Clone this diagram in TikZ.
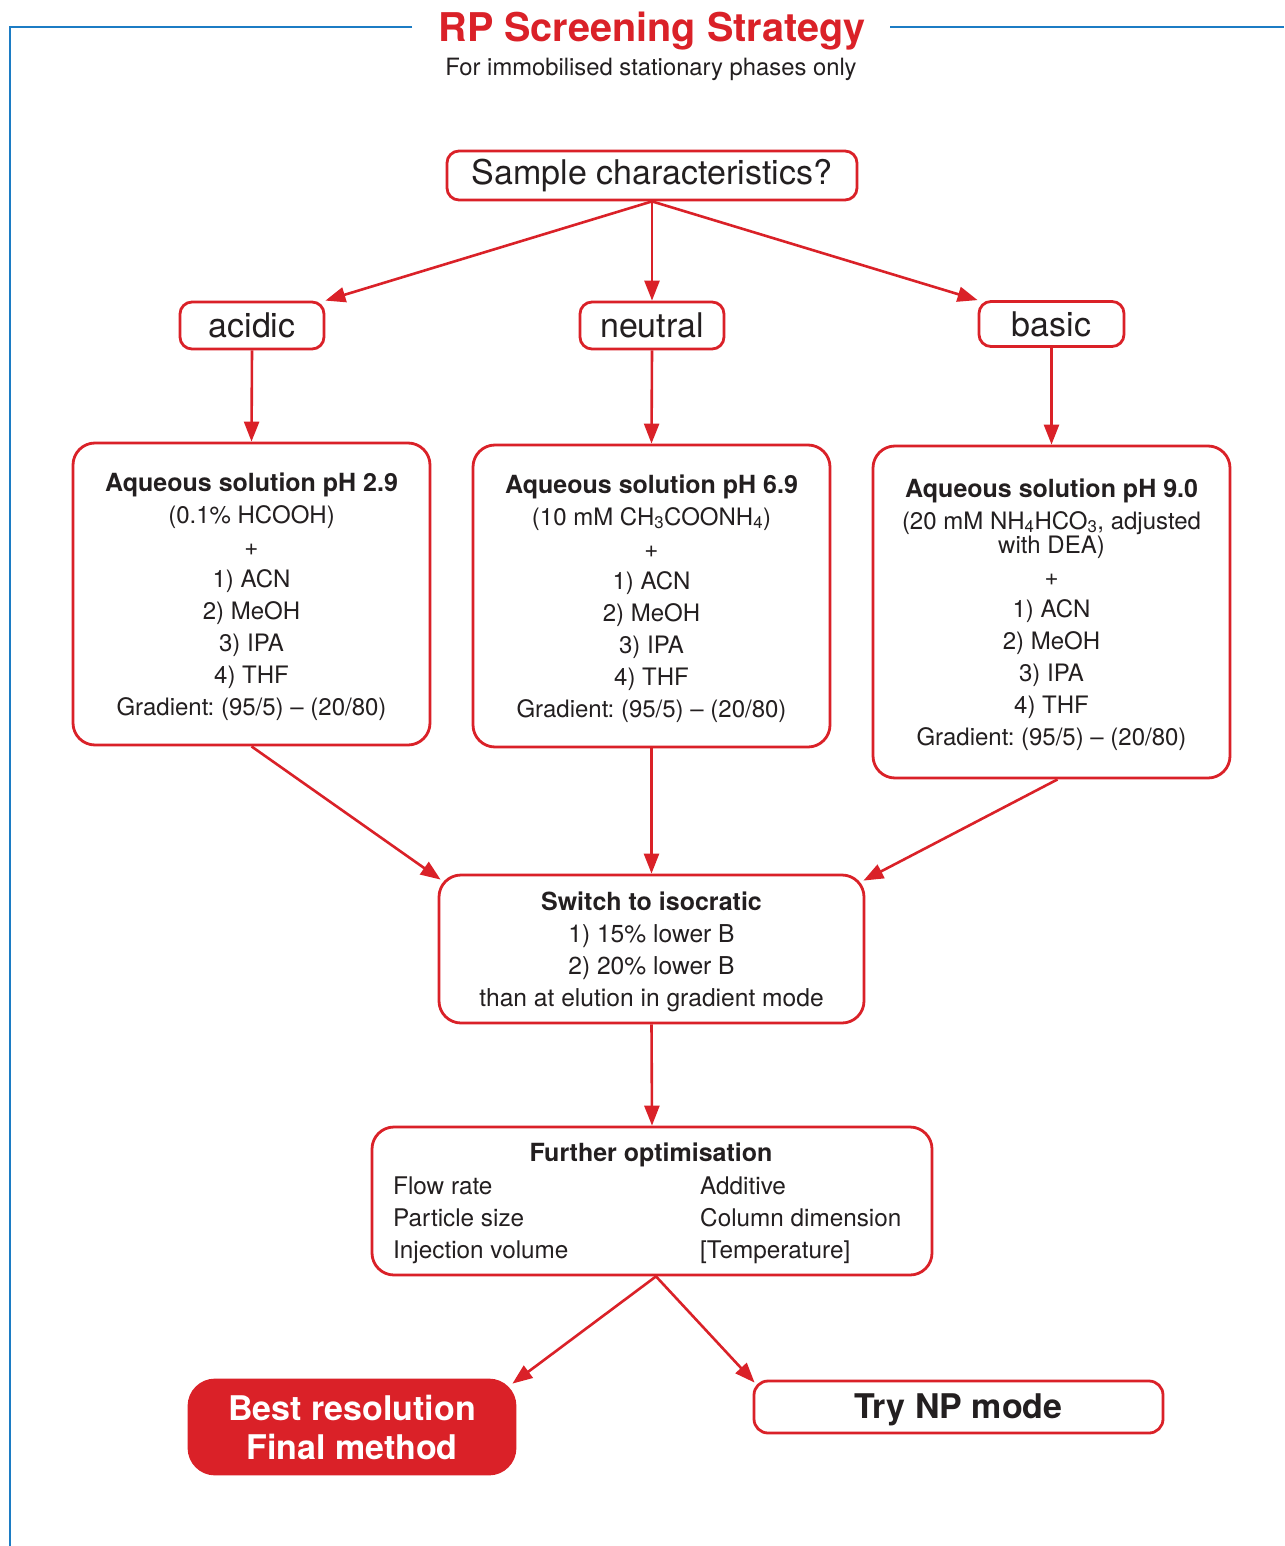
\documentclass[tikz,border=0pt]{standalone}
\usepackage{fontspec}
\setmainfont{TeX Gyre Heros}
\usetikzlibrary{arrows.meta}
\definecolor{rpred}{HTML}{DA2128}
\definecolor{rpblue}{HTML}{1C7CC4}
\definecolor{ink}{HTML}{231F20}
\newcommand{\hd}[1]{{\fontsize{25}{32}\selectfont\bfseries #1}}
\newcommand{\topstrut}{\rule{0pt}{23.5pt}}
\frenchspacing
\begin{document}
\begin{tikzpicture}[x=1pt,y=-1pt,
  box/.style={draw=rpred, line width=2.8pt, text=ink, align=center, inner sep=0pt},
  small/.style={box, rounded corners=12pt, font=\fontsize{34}{40}\selectfont},
  big/.style={box, rounded corners=22pt, font=\fontsize{24}{32}\selectfont},
  body/.style={text=ink, inner sep=0pt, font=\fontsize{24.3}{32}\selectfont},
  arr/.style={draw=rpred, line width=2.6pt, -{Triangle[length=20pt,width=15pt]}}]
\useasboundingbox (0,0) rectangle (1284,1546);
\fill[white] (0,0) rectangle (1284,1546);
% frame
\draw[rpblue, line width=2pt] (412,27) -- (10,27) -- (10,1546);
\draw[rpblue, line width=2pt] (890,27) -- (1284,27);
\node[text=rpred, inner sep=0pt, font=\fontsize{39.6}{44}\selectfont\bfseries] (title) at (652,31) {RP Screening Strategy};
\node[text=ink, inner sep=0pt, font=\fontsize{23.8}{30}\selectfont] (subtitle) at (651,69) {For immobilised stationary phases only};
% top level
\node[small, minimum width=410pt, minimum height=49pt] (s) at (652,175.5) {\rule{0pt}{26pt}Sample characteristics?};
\node[small, minimum width=144pt, minimum height=47pt] (ac) at (252,325.5) {acidic};
\node[small, minimum width=144pt, minimum height=47pt] (ne) at (652,325.5) {neutral};
\node[small, minimum width=145pt, minimum height=45pt] (ba) at (1051.5,324) {basic};
% solution boxes
\node[big, minimum width=357pt, minimum height=302pt] (b1) at (251.5,594) {\topstrut\hd{Aqueous solution pH 2.9}\\(0.1\% HCOOH)\\+\\1) ACN\\2) MeOH\\3) IPA\\4) THF\\Gradient: (95/5) -- (20/80)};
\node[big, minimum width=357pt, minimum height=302pt] (b2) at (651.5,596) {\topstrut\hd{Aqueous solution pH 6.9}\\(10 mM CH\textsubscript{3}COONH\textsubscript{4})\\+\\1) ACN\\2) MeOH\\3) IPA\\4) THF\\Gradient: (95/5) -- (20/80)};
\node[big, minimum width=357pt, minimum height=332pt] (b3) at (1051.5,612) {\topstrut\hd{Aqueous solution pH 9.0}\\(20 mM NH\textsubscript{4}HCO\textsubscript{3}, adjusted\\[-8pt]with DEA)\\+\\1) ACN\\2) MeOH\\3) IPA\\4) THF\\Gradient: (95/5) -- (20/80)};
% switch
\node[big, minimum width=425pt, minimum height=148pt, font=\fontsize{24.6}{32}\selectfont] (sw) at (651.5,949) {\topstrut\hd{Switch to isocratic}\\1) 15\% lower B\\2) 20\% lower B\\than at elution in gradient mode};
% further optimisation
\node[big, minimum width=560pt, minimum height=148pt] (fo) at (652,1201) {};
\node[body] (foh) at (651,1155) {\hd{Further optimisation}};
\node[body, anchor=west, align=left] (fol) at (393,1220) {Flow rate\\Particle size\\Injection volume};
\node[body, anchor=west, align=left] (for) at (700,1220) {Additive\\Column dimension\\{[Temperature]}};
% outcomes
\node[box, fill=rpred, text=white, rounded corners=26pt, minimum width=326pt, minimum height=94pt, font=\fontsize{34}{39}\selectfont\bfseries] (best) at (352,1427) {Best resolution\\Final method};
\node[box, rounded corners=14pt, minimum width=409pt, minimum height=52pt, text depth=1pt, font=\fontsize{34}{40}\selectfont\bfseries] (np) at (958.5,1407) {Try NP mode};
% arrows
\draw[arr] (s.south) -- (ac.north east);
\draw[arr] (s.south) -- (ne.north);
\draw[arr] (s.south) -- (ba.north west);
\draw[arr] (ac.south) -- (b1.north);
\draw[arr] (ne.south) -- (b2.north);
\draw[arr] (ba.south) -- (b3.north);
\draw[arr] (b1.south) -- ([shift={(3pt,-6pt)}]sw.north west);
\draw[arr] (b2.south) -- (sw.north);
\draw[arr] ([xshift=6pt]b3.south) -- ([shift={(-2pt,-7pt)}]sw.north east);
\draw[arr] (sw.south) -- (fo.north);
\draw[arr] ([xshift=4pt]fo.south) -- ([shift={(-4pt,-5pt)}]best.north east);
\draw[arr] ([xshift=4pt]fo.south) -- ([shift={(2pt,-3pt)}]np.north west);
\end{tikzpicture}
\end{document}
